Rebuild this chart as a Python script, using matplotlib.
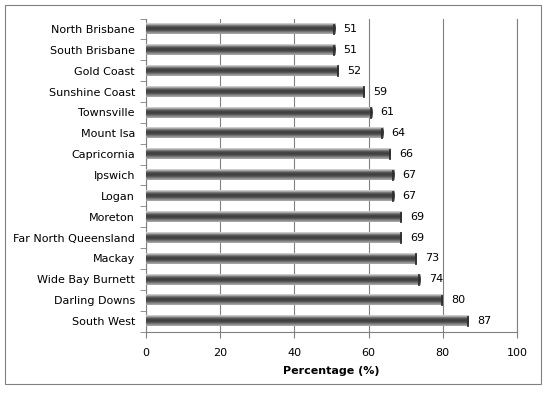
import matplotlib.pyplot as plt
import matplotlib.patches as mpatches
import numpy as np

regions = ['North Brisbane', 'South Brisbane', 'Gold Coast', 'Sunshine Coast',
           'Townsville', 'Mount Isa', 'Capricornia', 'Ipswich', 'Logan', 'Moreton',
           'Far North Queensland', 'Mackay', 'Wide Bay Burnett', 'Darling Downs',
           'South West']
values = [51, 51, 52, 59, 61, 64, 66, 67, 67, 69, 69, 73, 74, 80, 87]
xticks = [0, 20, 40, 60, 80, 100]

fig = plt.figure(figsize=(5.47, 3.99), dpi=100)
ax = fig.add_axes([146 / 547, 1 - 331.5 / 399, 371 / 547, 313 / 399])

n = len(regions)
ypos = np.arange(n)[::-1]
h = 0.5

# cylinder-like shading, top row first (light top, dark body, grey bottom)
shade = np.array([0.80, 0.66, 0.48, 0.34, 0.27, 0.25, 0.28, 0.34, 0.45, 0.56, 0.64])
img = np.repeat(shade[:, None], 2, axis=1)
for y, v in zip(ypos, values):
    ax.imshow(img, cmap='gray', vmin=0, vmax=1, aspect='auto',
              extent=[0, v, y - h / 2, y + h / 2], interpolation='nearest', zorder=3)
    ax.plot([v - 0.3, v - 0.3], [y - h / 2, y + h / 2.5], color='#2e2e2e', lw=1.3, zorder=4)
    ax.text(v + 2.2, y, str(v), va='center', ha='left', fontsize=8, color='black')

ax.set_xlim(0, 100)
ax.set_ylim(-0.5, n - 0.5)
ax.set_yticks(ypos)
ax.set_yticklabels(regions, fontsize=8)
ax.set_yticks(np.arange(-0.5, n, 1), minor=True)
ax.tick_params(axis='y', which='major', length=0, pad=8)
ax.tick_params(axis='y', which='minor', length=4, color='#808080')
ax.set_xticks(xticks)
ax.set_xticklabels([str(t) for t in xticks], fontsize=8)
ax.tick_params(axis='x', length=4, color='#808080', pad=8)
ax.grid(axis='x', color='#808080', lw=0.8, zorder=0)
ax.set_axisbelow(True)
ax.spines['top'].set_visible(False)
ax.spines['right'].set_color('#808080')
ax.spines['right'].set_linewidth(0.8)
ax.spines['left'].set_color('#808080')
ax.spines['bottom'].set_color('#808080')
ax.set_xlabel('Percentage (%)', fontsize=8, fontweight='bold', labelpad=6)

fig.patches.append(mpatches.Rectangle((5 / 547, 1 - 384 / 399), 536 / 547, 379 / 399,
                                      transform=fig.transFigure, fill=False,
                                      edgecolor='#808080', lw=0.8))

plt.savefig('out.png', dpi=100)
